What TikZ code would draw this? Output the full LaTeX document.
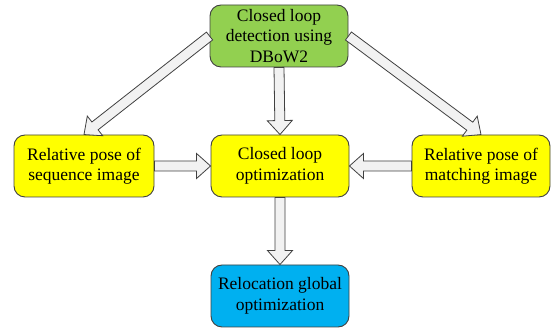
\documentclass[tikz,border=0pt]{standalone}
\usepackage{fontspec}
\setmainfont{Liberation Serif}
\usetikzlibrary{calc}

\definecolor{boxline}{HTML}{404040}
\definecolor{greenfill}{HTML}{92D050}
\definecolor{yellowfill}{HTML}{FFFF00}
\definecolor{bluefill}{HTML}{00B0F0}
\definecolor{arrowfill}{HTML}{F2F2F2}

\tikzset{
  stepbox/.style={draw=boxline, line width=0.9pt, rounded corners=11pt,
    minimum width=138pt, minimum height=62pt, inner sep=2pt,
    align=center, font=\rmfamily\fontsize{17.5}{20.5}\selectfont, text=black},
  blockarrow/.style={draw=boxline, fill=arrowfill, line width=0.8pt, line join=miter},
}

% hollow block arrow from #1 to #2: shaft half-width 5pt, head half-width 12.5pt, head length 14pt
\newcommand\blockarr[2]{%
  \path ($(#2)!14pt!(#1)$) coordinate (hb);
  \draw[blockarrow]
    ($(#1)!5pt!90:(#2)$) -- ($(hb)!5pt!90:(#2)$) -- ($(hb)!12.5pt!90:(#2)$)
    -- (#2)
    -- ($(hb)!12.5pt!-90:(#2)$) -- ($(hb)!5pt!-90:(#2)$) -- ($(#1)!5pt!-90:(#2)$) -- cycle;
}

\begin{document}
\begin{tikzpicture}[x=1pt, y=-1pt]
\useasboundingbox (0,0) rectangle (555,328);

\node[stepbox, fill=greenfill] (detect) at (279,36) {Closed loop\\detection using\\DBoW2};
\node[stepbox, fill=yellowfill, minimum width=140pt] (seq) at (84,166) {Relative pose of\\sequence image};
\node[stepbox, fill=yellowfill] (opt) at (280,166) {Closed loop\\optimization};
\node[stepbox, fill=yellowfill] (match) at (481,166) {Relative pose of\\matching image};
\node[stepbox, fill=bluefill] (reloc) at (280,296) {Relocation global\\optimization};

\blockarr{detect.south}{opt.north}
\blockarr{detect.west}{seq.north}
\blockarr{detect.east}{match.north}
\blockarr{seq.east}{opt.west}
\blockarr{match.west}{opt.east}
\blockarr{opt.south}{reloc.north}
\end{tikzpicture}
\end{document}
